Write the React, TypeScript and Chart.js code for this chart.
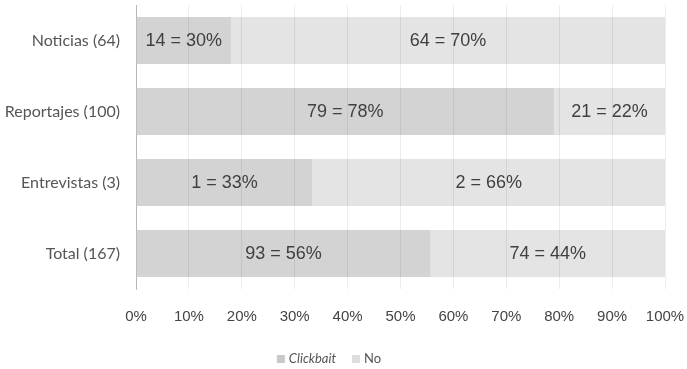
import React, { useEffect, useRef } from "react";
import { Chart, registerables } from "chart.js";

Chart.register(...registerables);

const categories = ["Noticias (64)", "Reportajes (100)", "Entrevistas (3)", "Total (167)"];
const seriesNames = ["Clickbait", "No"];
const clickbaitValues = [14, 79, 1, 93];
const noValues = [64, 21, 2, 74];
const clickbaitLabels = ["14 = 30%", "79 = 78%", "1 = 33%", "93 = 56%"];
const noLabels = ["64 = 70%", "21 = 22%", "2 = 66%", "74 = 44%"];
const xTickValues = [0, 10, 20, 30, 40, 50, 60, 70, 80, 90, 100];

const COLORS = ["#d3d3d3", "#e4e4e4"];
const LEGEND_COLORS = ["#c9c9c9", "#dedede"];

const share = (a: number[], b: number[]) => a.map((v, i) => (v / (v + b[i])) * 100);

const segmentLabelPlugin = {
  id: "segmentLabels",
  afterDatasetsDraw(chart: any) {
    const ctx = chart.ctx;
    const texts = [clickbaitLabels, noLabels];
    ctx.save();
    ctx.font = "18px 'Liberation Sans', Arial, sans-serif";
    ctx.fillStyle = "#404040";
    ctx.textAlign = "center";
    ctx.textBaseline = "middle";
    chart.data.datasets.forEach((_ds: any, di: number) => {
      const meta = chart.getDatasetMeta(di);
      meta.data.forEach((el: any, i: number) => {
        const cx = (el.x + el.base) / 2;
        ctx.fillText(texts[di][i], cx, el.y + 1);
      });
    });
    ctx.restore();
  },
};

const legendPlugin = {
  id: "customLegend",
  afterDraw(chart: any) {
    const ctx = chart.ctx;
    ctx.save();
    const y = 359;
    const fonts = ["italic 13px Lato, sans-serif", "13px Lato, sans-serif"];
    const box = 8;
    const gapBox = 4;
    const gapItem = 16;
    let total = 0;
    const widths = seriesNames.map((n, i) => {
      ctx.font = fonts[i];
      return ctx.measureText(n).width;
    });
    widths.forEach((w, i) => {
      total += box + gapBox + w + (i < widths.length - 1 ? gapItem : 0);
    });
    let x = 329 - total / 2;
    ctx.textBaseline = "middle";
    ctx.textAlign = "left";
    seriesNames.forEach((n, i) => {
      ctx.fillStyle = LEGEND_COLORS[i];
      ctx.fillRect(x, y - box / 2, box, box);
      x += box + gapBox;
      ctx.font = fonts[i];
      ctx.fillStyle = "#555555";
      ctx.fillText(n, x, y);
      x += widths[i] + gapItem;
    });
    ctx.restore();
  },
};

const zeroPadding = (scale: any) => {
  scale.paddingTop = 0;
  scale.paddingBottom = 0;
  scale.paddingLeft = 0;
  scale.paddingRight = 0;
};

export default function App() {
  const ref = useRef<HTMLCanvasElement | null>(null);

  useEffect(() => {
    if (!ref.current) return;
    const chart = new Chart(ref.current, {
      type: "bar",
      data: {
        labels: categories,
        datasets: [
          {
            label: seriesNames[0],
            data: share(clickbaitValues, noValues),
            backgroundColor: COLORS[0],
            borderWidth: 0,
            categoryPercentage: 1,
            barPercentage: 0.66,
          },
          {
            label: seriesNames[1],
            data: share(noValues, clickbaitValues),
            backgroundColor: COLORS[1],
            borderWidth: 0,
            categoryPercentage: 1,
            barPercentage: 0.66,
          },
        ],
      },
      options: {
        indexAxis: "y",
        responsive: false,
        animation: false,
        layout: { padding: { left: 0, right: 22, top: 5, bottom: 40 } },
        plugins: {
          legend: { display: false },
          tooltip: { enabled: false },
        },
        scales: {
          x: {
            stacked: true,
            min: 0,
            max: 100,
            afterBuildTicks: (scale: any) => {
              scale.ticks = xTickValues.map((v) => ({ value: v }));
            },
            afterFit: (scale: any) => {
              scale.height = 40;
              zeroPadding(scale);
            },
            grid: {
              color: "rgba(0,0,0,0.07)",
              drawTicks: false,
              z: 1,
            },
            border: { display: false },
            ticks: {
              padding: 19,
              color: "#444444",
              font: { family: "'Liberation Sans', Arial, sans-serif", size: 15 },
              callback: (v: any) => v + "%",
              maxRotation: 0,
              autoSkip: false,
            },
          },
          y: {
            stacked: true,
            afterFit: (scale: any) => {
              scale.width = 136;
              zeroPadding(scale);
            },
            grid: { display: false, drawTicks: false },
            border: { display: true, color: "#c4c4c4", width: 1 },
            ticks: {
              padding: 16,
              color: "#555555",
              font: { family: "Lato, sans-serif", size: 16 },
            },
          },
        },
      },
      plugins: [segmentLabelPlugin, legendPlugin],
    });
    return () => chart.destroy();
  }, []);

  return (
    <div style={{ position: "absolute", left: 0, top: 0, width: 687, height: 369, background: "#fff" }}>
      <canvas ref={ref} width={687} height={369} style={{ display: "block" }} />
    </div>
  );
}
